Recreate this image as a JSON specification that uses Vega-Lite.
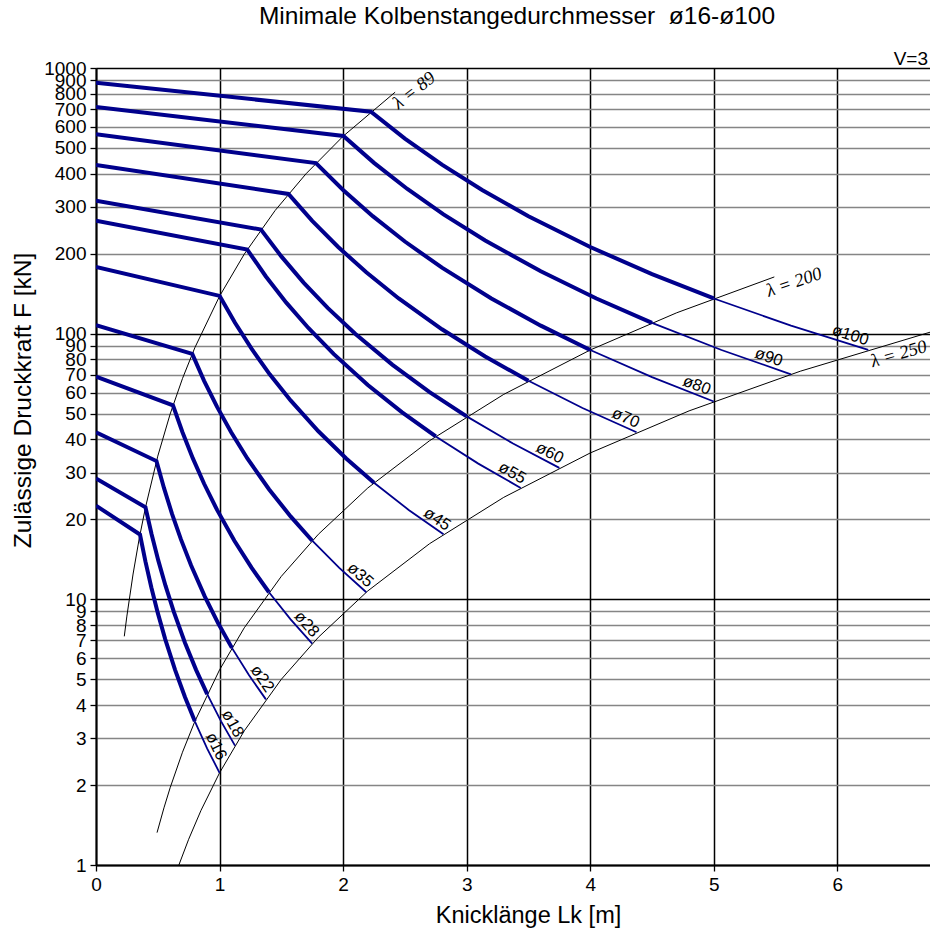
{
  "$schema": "https://vega.github.io/schema/vega-lite/v6.json",
  "width": 834,
  "height": 797,
  "autosize": {"type": "none"},
  "padding": {"left": 96, "top": 68, "right": 0, "bottom": 65},
  "background": "white",
  "config": {"view": {"stroke": null}, "font": "Liberation Sans"},
  "title": {
    "text": "Minimale Kolbenstangedurchmesser \u00a0ø16-ø100",
    "anchor": "middle",
    "frame": "group",
    "fontSize": 24.5,
    "fontWeight": "normal",
    "font": "Liberation Sans",
    "color": "#000000",
    "baseline": "alphabetic",
    "offset": 2,
    "dx": 4
  },
  "datasets": {
    "dia": [
      {"d":16,"seg":"thick","Lk":0,"F":22.52},{"d":16,"seg":"thick","Lk":0.356,"F":17.537},{"d":16,"seg":"thick","Lk":0.4,"F":13.891},{"d":16,"seg":"thick","Lk":0.448,"F":11.074},{"d":16,"seg":"thick","Lk":0.5,"F":8.89},{"d":16,"seg":"thick","Lk":0.56,"F":7.087},{"d":16,"seg":"thick","Lk":0.64,"F":5.426},{"d":16,"seg":"thick","Lk":0.72,"F":4.287},{"d":16,"seg":"thick","Lk":0.8,"F":3.473},
      {"d":16,"seg":"thin","Lk":0.8,"F":3.473},{"d":16,"seg":"thin","Lk":0.9,"F":2.744},{"d":16,"seg":"thin","Lk":1.0,"F":2.2225},
      {"d":18,"seg":"thick","Lk":0,"F":28.5},{"d":18,"seg":"thick","Lk":0.4005,"F":22.195},{"d":18,"seg":"thick","Lk":0.45,"F":17.581},{"d":18,"seg":"thick","Lk":0.504,"F":14.015},{"d":18,"seg":"thick","Lk":0.5625,"F":11.252},{"d":18,"seg":"thick","Lk":0.63,"F":8.97},{"d":18,"seg":"thick","Lk":0.72,"F":6.867},{"d":18,"seg":"thick","Lk":0.81,"F":5.426},{"d":18,"seg":"thick","Lk":0.9,"F":4.395},
      {"d":18,"seg":"thin","Lk":0.9,"F":4.395},{"d":18,"seg":"thin","Lk":1.0125,"F":3.473},{"d":18,"seg":"thin","Lk":1.125,"F":2.813},
      {"d":22,"seg":"thick","Lk":0,"F":42.57},{"d":22,"seg":"thick","Lk":0.4895,"F":33.155},{"d":22,"seg":"thick","Lk":0.55,"F":26.262},{"d":22,"seg":"thick","Lk":0.616,"F":20.936},{"d":22,"seg":"thick","Lk":0.6875,"F":16.808},{"d":22,"seg":"thick","Lk":0.77,"F":13.399},{"d":22,"seg":"thick","Lk":0.88,"F":10.259},{"d":22,"seg":"thick","Lk":0.99,"F":8.106},{"d":22,"seg":"thick","Lk":1.1,"F":6.566},
      {"d":22,"seg":"thin","Lk":1.1,"F":6.566},{"d":22,"seg":"thin","Lk":1.2375,"F":5.188},{"d":22,"seg":"thin","Lk":1.375,"F":4.202},
      {"d":28,"seg":"thick","Lk":0,"F":68.96},{"d":28,"seg":"thick","Lk":0.623,"F":53.706},{"d":28,"seg":"thick","Lk":0.7,"F":42.541},{"d":28,"seg":"thick","Lk":0.784,"F":33.913},{"d":28,"seg":"thick","Lk":0.875,"F":27.226},{"d":28,"seg":"thick","Lk":0.98,"F":21.705},{"d":28,"seg":"thick","Lk":1.12,"F":16.617},{"d":28,"seg":"thick","Lk":1.26,"F":13.13},{"d":28,"seg":"thick","Lk":1.4,"F":10.635},
      {"d":28,"seg":"thin","Lk":1.4,"F":10.635},{"d":28,"seg":"thin","Lk":1.575,"F":8.403},{"d":28,"seg":"thin","Lk":1.75,"F":6.807},
      {"d":35,"seg":"thick","Lk":0,"F":107.76},{"d":35,"seg":"thick","Lk":0.779,"F":83.915},{"d":35,"seg":"thick","Lk":0.875,"F":66.469},{"d":35,"seg":"thick","Lk":0.98,"F":52.989},{"d":35,"seg":"thick","Lk":1.094,"F":42.541},{"d":35,"seg":"thick","Lk":1.225,"F":33.914},{"d":35,"seg":"thick","Lk":1.4,"F":25.964},{"d":35,"seg":"thick","Lk":1.575,"F":20.515},{"d":35,"seg":"thick","Lk":1.75,"F":16.618},
      {"d":35,"seg":"thin","Lk":1.75,"F":16.618},{"d":35,"seg":"thin","Lk":1.969,"F":13.13},{"d":35,"seg":"thin","Lk":2.1875,"F":10.635},
      {"d":45,"seg":"thick","Lk":0,"F":178.13},{"d":45,"seg":"thick","Lk":1.001,"F":138.717},{"d":45,"seg":"thick","Lk":1.125,"F":109.877},{"d":45,"seg":"thick","Lk":1.26,"F":87.594},{"d":45,"seg":"thick","Lk":1.406,"F":70.322},{"d":45,"seg":"thick","Lk":1.575,"F":56.061},{"d":45,"seg":"thick","Lk":1.8,"F":42.921},{"d":45,"seg":"thick","Lk":2.025,"F":33.913},{"d":45,"seg":"thick","Lk":2.25,"F":27.47},
      {"d":45,"seg":"thin","Lk":2.25,"F":27.47},{"d":45,"seg":"thin","Lk":2.531,"F":21.705},{"d":45,"seg":"thin","Lk":2.8125,"F":17.581},
      {"d":55,"seg":"thick","Lk":0,"F":266.09},{"d":55,"seg":"thick","Lk":1.224,"F":207.22},{"d":55,"seg":"thick","Lk":1.375,"F":164.139},{"d":55,"seg":"thick","Lk":1.54,"F":130.849},{"d":55,"seg":"thick","Lk":1.719,"F":105.049},{"d":55,"seg":"thick","Lk":1.925,"F":83.747},{"d":55,"seg":"thick","Lk":2.2,"F":64.117},{"d":55,"seg":"thick","Lk":2.475,"F":50.66},{"d":55,"seg":"thick","Lk":2.75,"F":41.035},
      {"d":55,"seg":"thin","Lk":2.75,"F":41.035},{"d":55,"seg":"thin","Lk":3.094,"F":32.423},{"d":55,"seg":"thin","Lk":3.4375,"F":26.263},
      {"d":60,"seg":"thick","Lk":0,"F":316.67},{"d":60,"seg":"thick","Lk":1.335,"F":246.608},{"d":60,"seg":"thick","Lk":1.5,"F":195.339},{"d":60,"seg":"thick","Lk":1.68,"F":155.722},{"d":60,"seg":"thick","Lk":1.875,"F":125.018},{"d":60,"seg":"thick","Lk":2.1,"F":99.665},{"d":60,"seg":"thick","Lk":2.4,"F":76.304},{"d":60,"seg":"thick","Lk":2.7,"F":60.29},{"d":60,"seg":"thick","Lk":3.0,"F":48.836},
      {"d":60,"seg":"thin","Lk":3.0,"F":48.836},{"d":60,"seg":"thin","Lk":3.375,"F":38.586},{"d":60,"seg":"thin","Lk":3.75,"F":31.254},
      {"d":70,"seg":"thick","Lk":0,"F":431.03},{"d":70,"seg":"thick","Lk":1.5575,"F":335.662},{"d":70,"seg":"thick","Lk":1.75,"F":265.878},{"d":70,"seg":"thick","Lk":1.96,"F":211.957},{"d":70,"seg":"thick","Lk":2.1875,"F":170.165},{"d":70,"seg":"thick","Lk":2.45,"F":135.656},{"d":70,"seg":"thick","Lk":2.8,"F":103.859},{"d":70,"seg":"thick","Lk":3.15,"F":82.061},{"d":70,"seg":"thick","Lk":3.5,"F":66.47},
      {"d":70,"seg":"thin","Lk":3.5,"F":66.47},{"d":70,"seg":"thin","Lk":3.9375,"F":52.52},{"d":70,"seg":"thin","Lk":4.375,"F":42.541},
      {"d":80,"seg":"thick","Lk":0,"F":562.97},{"d":80,"seg":"thick","Lk":1.78,"F":438.417},{"d":80,"seg":"thick","Lk":2.0,"F":347.27},{"d":80,"seg":"thick","Lk":2.24,"F":276.842},{"d":80,"seg":"thick","Lk":2.5,"F":222.255},{"d":80,"seg":"thick","Lk":2.8,"F":177.181},{"d":80,"seg":"thick","Lk":3.2,"F":135.652},{"d":80,"seg":"thick","Lk":3.6,"F":107.181},{"d":80,"seg":"thick","Lk":4.0,"F":86.819},
      {"d":80,"seg":"thin","Lk":4.0,"F":86.819},{"d":80,"seg":"thin","Lk":4.5,"F":68.597},{"d":80,"seg":"thin","Lk":5.0,"F":55.564},
      {"d":90,"seg":"thick","Lk":0,"F":712.51},{"d":90,"seg":"thick","Lk":2.0025,"F":554.87},{"d":90,"seg":"thick","Lk":2.25,"F":439.511},{"d":90,"seg":"thick","Lk":2.52,"F":350.376},{"d":90,"seg":"thick","Lk":2.8125,"F":281.29},{"d":90,"seg":"thick","Lk":3.15,"F":224.244},{"d":90,"seg":"thick","Lk":3.6,"F":171.684},{"d":90,"seg":"thick","Lk":4.05,"F":135.65},{"d":90,"seg":"thick","Lk":4.5,"F":109.88},
      {"d":90,"seg":"thin","Lk":4.5,"F":109.88},{"d":90,"seg":"thin","Lk":5.0625,"F":86.819},{"d":90,"seg":"thin","Lk":5.625,"F":70.323},
      {"d":100,"seg":"thick","Lk":0,"F":879.65},{"d":100,"seg":"thick","Lk":2.225,"F":685.024},{"d":100,"seg":"thick","Lk":2.5,"F":542.608},{"d":100,"seg":"thick","Lk":2.8,"F":432.566},{"d":100,"seg":"thick","Lk":3.125,"F":347.271},{"d":100,"seg":"thick","Lk":3.5,"F":276.846},{"d":100,"seg":"thick","Lk":4.0,"F":211.958},{"d":100,"seg":"thick","Lk":4.5,"F":167.47},{"d":100,"seg":"thick","Lk":5.0,"F":135.654},
      {"d":100,"seg":"thin","Lk":5.0,"F":135.654},{"d":100,"seg":"thin","Lk":5.625,"F":107.184},{"d":100,"seg":"thin","Lk":6.25,"F":86.819}
    ],
    "lam": [
      {"lam":89,"Lk":0.229,"F":7.256},{"lam":89,"Lk":0.25,"F":8.648},{"lam":89,"Lk":0.3,"F":12.453},{"lam":89,"Lk":0.35,"F":16.951},{"lam":89,"Lk":0.4,"F":22.14},{"lam":89,"Lk":0.5,"F":34.593},{"lam":89,"Lk":0.6,"F":49.814},{"lam":89,"Lk":0.7,"F":67.802},{"lam":89,"Lk":0.8,"F":88.558},{"lam":89,"Lk":1.0,"F":138.372},{"lam":89,"Lk":1.2,"F":199.256},{"lam":89,"Lk":1.45,"F":290.927},{"lam":89,"Lk":1.7,"F":399.895},{"lam":89,"Lk":2.0,"F":553.488},{"lam":89,"Lk":2.421,"F":811.03},
      {"lam":200,"Lk":0.494,"F":1.324},{"lam":200,"Lk":0.55,"F":1.641},{"lam":200,"Lk":0.6,"F":1.953},{"lam":200,"Lk":0.7,"F":2.658},{"lam":200,"Lk":0.8,"F":3.472},{"lam":200,"Lk":1.0,"F":5.426},{"lam":200,"Lk":1.2,"F":7.813},{"lam":200,"Lk":1.5,"F":12.207},{"lam":200,"Lk":1.8,"F":17.579},{"lam":200,"Lk":2.2,"F":26.259},{"lam":200,"Lk":2.7,"F":39.552},{"lam":200,"Lk":3.3,"F":59.084},{"lam":200,"Lk":4.0,"F":86.808},{"lam":200,"Lk":4.7,"F":119.85},{"lam":200,"Lk":5.49,"F":163.52},
      {"lam":250,"Lk":0.6708,"F":1.0},{"lam":250,"Lk":0.75,"F":1.25},{"lam":250,"Lk":0.85,"F":1.606},{"lam":250,"Lk":1.0,"F":2.2225},{"lam":250,"Lk":1.2,"F":3.2},{"lam":250,"Lk":1.5,"F":5.001},{"lam":250,"Lk":1.8,"F":7.201},{"lam":250,"Lk":2.2,"F":10.757},{"lam":250,"Lk":2.7,"F":16.202},{"lam":250,"Lk":3.3,"F":24.203},{"lam":250,"Lk":4.0,"F":35.56},{"lam":250,"Lk":4.8,"F":51.206},{"lam":250,"Lk":5.7,"F":72.209},{"lam":250,"Lk":6.75,"F":101.264}
    ],
    "lbl": [
      {"d":16,"label":"ø16","Lk":0.907,"F":2.7016},
      {"d":18,"label":"ø18","Lk":1.042,"F":3.2788},
      {"d":22,"label":"ø22","Lk":1.285,"F":4.8112},
      {"d":28,"label":"ø28","Lk":1.65,"F":7.6566},
      {"d":35,"label":"ø35","Lk":2.09,"F":11.651},
      {"d":45,"label":"ø45","Lk":2.72,"F":18.797},
      {"d":55,"label":"ø55","Lk":3.333,"F":27.935},
      {"d":60,"label":"ø60","Lk":3.639,"F":33.19},
      {"d":70,"label":"ø70","Lk":4.258,"F":44.91},
      {"d":80,"label":"ø80","Lk":4.836,"F":59.396},
      {"d":90,"label":"ø90","Lk":5.421,"F":75.714},
      {"d":100,"label":"ø100","Lk":6.084,"F":91.62}
    ],
    "one": [{"n": 1}]
  },
  "layer": [
    {
      "data": {"name": "lam"},
      "mark": {"type": "line", "color": "#000000", "strokeWidth": 1, "clip": true},
      "encoding": {
        "x": {
          "field": "Lk", "type": "quantitative",
          "scale": {"domain": [0, 6.75], "nice": false, "zero": false},
          "axis": {
            "title": "Knicklänge Lk [m]",
            "values": [0,0.25,0.5,0.75,1,1.25,1.5,1.75,2,2.25,2.5,2.75,3,3.25,3.5,3.75,4,4.25,4.5,4.75,5,5.25,5.5,5.75,6,6.25,6.5,6.75],
            "format": "d",
            "labelExpr": "datum.value % 1 === 0 ? datum.label : ''",
            "labelOverlap": false,
            "labelFontSize": 19,
            "labelColor": "#000000",
            "labelPadding": 4,
            "labelFlush": false,
            "grid": true,
            "gridColor": {"condition": {"test": "datum.value % 1 === 0", "value": "#000000"}, "value": "rgba(0,0,0,0)"},
            "gridWidth": 1.5,
            "tickSize": 6,
            "tickWidth": 1.3,
            "tickColor": "#000000",
            "domainColor": "#000000",
            "domainWidth": 2,
            "titleFontSize": 23.5,
            "titleFontWeight": "normal",
            "titleColor": "#000000",
            "titleX": 432,
            "titleY": 57,
            "titleAlign": "center",
            "titleBaseline": "alphabetic"
          }
        },
        "y": {
          "field": "F", "type": "quantitative",
          "scale": {"type": "log", "domain": [1, 1000], "nice": false},
          "axis": {
            "title": "Zulässige Druckkraft F [kN]",
            "values": [1,2,3,4,5,6,7,8,9,10,20,30,40,50,60,70,80,90,100,200,300,400,500,600,700,800,900,1000],
            "format": "d",
            "labelOverlap": false,
            "labelFontSize": 19,
            "labelColor": "#000000",
            "labelPadding": 4,
            "grid": true,
            "gridColor": {"condition": {"test": "datum.value === 1 || datum.value === 10 || datum.value === 100 || datum.value === 1000", "value": "#000000"}, "value": "#858585"},
            "gridWidth": 1.5,
            "tickSize": 6,
            "tickWidth": 1.3,
            "tickColor": "#000000",
            "domainColor": "#000000",
            "domainWidth": 2,
            "titleFontSize": 24.5,
            "titleFontWeight": "normal",
            "titleColor": "#000000",
            "titleAngle": 270,
            "titleX": -66,
            "titleY": 332,
            "titleAlign": "center",
            "titleBaseline": "alphabetic"
          }
        },
        "detail": {"field": "lam", "type": "nominal"}
      }
    },
    {
      "data": {"name": "dia"},
      "mark": {"type": "line", "color": "#00008c", "clip": true},
      "encoding": {
        "x": {"field": "Lk", "type": "quantitative", "scale": {"domain": [0, 6.75], "nice": false, "zero": false}},
        "y": {"field": "F", "type": "quantitative", "scale": {"type": "log", "domain": [1, 1000], "nice": false}},
        "detail": {"field": "d", "type": "nominal"},
        "strokeWidth": {"field": "seg", "type": "nominal", "scale": {"domain": ["thick", "thin"], "range": [4, 1.8]}, "legend": null}
      }
    },
    {
      "data": {"name": "lbl"},
      "mark": {"type": "text", "fontSize": 16.5, "align": "center", "baseline": "middle", "dy": -9, "color": "#000000", "font": "Liberation Sans"},
      "encoding": {
        "x": {"field": "Lk", "type": "quantitative", "scale": {"domain": [0, 6.75], "nice": false, "zero": false}},
        "y": {"field": "F", "type": "quantitative", "scale": {"type": "log", "domain": [1, 1000], "nice": false}},
        "text": {"field": "label", "type": "nominal"},
        "angle": {"field": "d", "type": "quantitative", "scale": {"domain": [16,18,22,28,35,45,55,60,70,80,90,100], "range": [64.1,60.9,55.5,48.6,41.8,34.5,29.3,27.2,23.7,21.1,19.0,17.1], "nice": false, "zero": false}, "legend": null}
      }
    },
    {
      "data": {"name": "one"},
      "mark": {"type": "text", "text": "λ = 89", "font": "Liberation Serif", "fontStyle": "italic", "fontSize": 18.5, "angle": -38, "align": "center", "baseline": "middle", "dx": 16, "dy": 10, "color": "#000000"},
      "encoding": {
        "x": {"datum": 2.421, "type": "quantitative", "scale": {"domain": [0, 6.75], "nice": false, "zero": false}},
        "y": {"datum": 811, "type": "quantitative", "scale": {"type": "log", "domain": [1, 1000], "nice": false}}
      }
    },
    {
      "data": {"name": "one"},
      "mark": {"type": "text", "text": "λ = 200", "font": "Liberation Serif", "fontStyle": "italic", "fontSize": 18.5, "angle": -19, "align": "center", "baseline": "middle", "dx": 17, "dy": 11, "color": "#000000"},
      "encoding": {
        "x": {"datum": 5.49, "type": "quantitative", "scale": {"domain": [0, 6.75], "nice": false, "zero": false}},
        "y": {"datum": 163.5, "type": "quantitative", "scale": {"type": "log", "domain": [1, 1000], "nice": false}}
      }
    },
    {
      "data": {"name": "one"},
      "mark": {"type": "text", "text": "λ = 250", "font": "Liberation Serif", "fontStyle": "italic", "fontSize": 18.5, "angle": -16, "align": "center", "baseline": "middle", "dx": 0, "dy": 12, "color": "#000000"},
      "encoding": {
        "x": {"datum": 6.47, "type": "quantitative", "scale": {"domain": [0, 6.75], "nice": false, "zero": false}},
        "y": {"datum": 93.04, "type": "quantitative", "scale": {"type": "log", "domain": [1, 1000], "nice": false}}
      }
    },
    {
      "data": {"name": "one"},
      "mark": {"type": "text", "text": "V=3", "font": "Liberation Sans", "fontSize": 19, "align": "right", "baseline": "alphabetic", "dx": -2, "dy": -3, "color": "#000000"},
      "encoding": {
        "x": {"datum": 6.75, "type": "quantitative", "scale": {"domain": [0, 6.75], "nice": false, "zero": false}},
        "y": {"datum": 1000, "type": "quantitative", "scale": {"type": "log", "domain": [1, 1000], "nice": false}}
      }
    }
  ]
}
